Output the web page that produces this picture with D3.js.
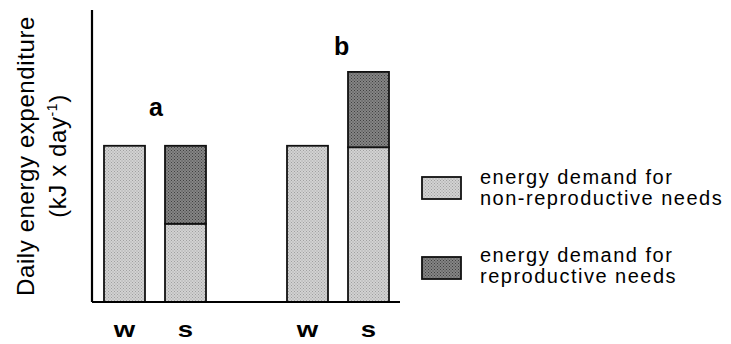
<!DOCTYPE html>
<html>
<head>
<meta charset="utf-8">
<script src="https://cdn.jsdelivr.net/npm/d3@7"></script>
<style>
  body { margin: 0; background: #fff; }
  svg { font-family: "Liberation Sans", Arial, sans-serif; }
</style>
</head>
<body>
<svg width="731" height="344"></svg>
<script>
// bar data (arbitrary units, no y ticks on the original)
const groups = ['a', 'b'];
const seasons = ['w', 's'];
const bars = ['a-w', 'a-s', 'b-w', 'b-s'];
const nonRepro = [53.5, 26.8, 53.5, 53];
const repro = [0, 26.7, 0, 25.8];
const legendLabels = [
  ['energy demand for', 'non-reproductive needs'],
  ['energy demand for', 'reproductive needs']
];

const svg = d3.select('svg');
const light = '#d2d2d2', dark = '#858585';

// stipple patterns, to get the printed look
const defs = svg.append('defs');
function stipple(id, base, dot) {
  const p = defs.append('pattern').attr('id', id)
    .attr('width', 3).attr('height', 3).attr('patternUnits', 'userSpaceOnUse');
  p.append('rect').attr('width', 3).attr('height', 3).attr('fill', base);
  p.append('rect').attr('width', 1).attr('height', 1).attr('fill', dot);
  p.append('rect').attr('x', 1.5).attr('y', 1.5).attr('width', 1).attr('height', 1).attr('fill', dot);
}
stipple('lt', light, '#a0a0a0');
stipple('dk', dark, '#404040');

const x0 = 92, x1 = 400, yTop = 10, yBot = 302;

// five bands, the middle one left empty between the groups
const x = d3.scaleBand()
  .domain(['a-w', 'a-s', 'gap', 'b-w', 'b-s'])
  .range([104, 389])
  .paddingInner(0.328);
const y = d3.scaleLinear().domain([0, 100]).range([yBot, yTop]);

const data = bars.map((k, i) => ({ key: k, lo: nonRepro[i], hi: repro[i] }));

// non-reproductive part
svg.selectAll('.bar-lo')
  .data(data)
  .enter().append('rect')
  .attr('class', 'bar-lo')
  .attr('x', d => x(d.key))
  .attr('y', d => y(d.lo))
  .attr('width', x.bandwidth())
  .attr('height', d => y(0) - y(d.lo))
  .attr('fill', 'url(#lt)')
  .attr('stroke', '#111').attr('stroke-width', 1.8);

// reproductive part stacked on top
svg.selectAll('.bar-hi')
  .data(data.filter(d => d.hi > 0))
  .enter().append('rect')
  .attr('class', 'bar-hi')
  .attr('x', d => x(d.key))
  .attr('y', d => y(d.lo + d.hi))
  .attr('width', x.bandwidth())
  .attr('height', d => y(d.lo) - y(d.lo + d.hi))
  .attr('fill', 'url(#dk)')
  .attr('stroke', '#111').attr('stroke-width', 1.8);

// axes, plain lines without ticks
svg.append('line').attr('x1', x0).attr('x2', x0).attr('y1', yTop).attr('y2', yBot)
  .attr('stroke', '#000').attr('stroke-width', 2.2);
svg.append('line').attr('x1', x0).attr('x2', x1).attr('y1', yBot).attr('y2', yBot)
  .attr('stroke', '#000').attr('stroke-width', 1.8);

// category labels under the bars
svg.selectAll('.cat')
  .data(data)
  .enter().append('text')
  .attr('class', 'cat')
  .attr('x', d => x(d.key) + x.bandwidth() / 2)
  .attr('y', 337)
  .attr('text-anchor', 'middle')
  .attr('font-size', 22)
  .attr('font-weight', 'bold')
  .attr('transform-origin', d => (x(d.key) + x.bandwidth() / 2) + 'px 337px')
  .attr('transform', 'scale(1.25,1)')
  .text(d => d.key.split('-')[1]);

// group letters a and b, above-left of the s bar of each group
groups.forEach(g => {
  const d = data.filter(b => b.key.startsWith(g));
  const top = d3.max(d, b => b.lo + b.hi);
  const sKey = g + '-' + seasons[1];
  svg.append('text')
    .attr('x', x(sKey) - (g === 'a' ? 16 : 14))
    .attr('y', y(top) - (g === 'a' ? 30 : 17))
    .attr('font-size', 25)
    .attr('font-weight', 'bold')
    .text(g);
});

// y axis title
const yt = svg.append('text')
  .attr('transform', 'translate(34,156) rotate(-90)')
  .attr('text-anchor', 'middle')
  .attr('font-size', 24)
  .attr('letter-spacing', 0.6);
yt.append('tspan').attr('x', 0).attr('y', 0).text('Daily energy expenditure');
const l2 = yt.append('tspan').attr('x', 0).attr('dy', 32);
l2.append('tspan').text('(kJ x day');
l2.append('tspan').attr('dy', -9).attr('font-size', 14).text('-1');
l2.append('tspan').attr('dy', 9).text(')');

// legend
const leg = svg.selectAll('.leg')
  .data(legendLabels)
  .enter().append('g')
  .attr('class', 'leg')
  .attr('transform', (d, i) => 'translate(422,' + (177 + i * 80) + ')');
leg.append('rect')
  .attr('width', 39).attr('height', 22)
  .attr('fill', (d, i) => i === 0 ? 'url(#lt)' : 'url(#dk)')
  .attr('stroke', '#111').attr('stroke-width', 1.8);
leg.each(function(d, i) {
  const t = d3.select(this).append('text')
    .attr('x', 58).attr('y', i === 0 ? 7 : 5)
    .attr('font-size', 20)
    .attr('letter-spacing', 1.5);
  t.append('tspan').attr('x', 58).text(d[0]);
  t.append('tspan').attr('x', 58).attr('dy', 21).text(d[1]);
});
</script>
</body>
</html>
